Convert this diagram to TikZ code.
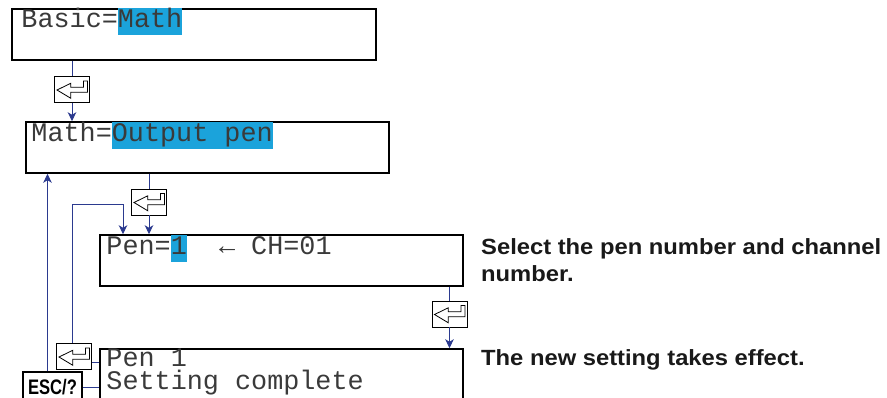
\documentclass[tikz,border=0pt]{standalone}
\usepackage{fontspec}
\setmonofont{Liberation Mono}
\newfontfamily\notefont[FakeStretch=1.08]{Liberation Sans}
\newfontfamily\keyfont{Liberation Sans}
\usetikzlibrary{
  arrows.meta,
  positioning,
  calc
}
\definecolor{ykFlow}{HTML}{2B3A8F}
\definecolor{ykMark}{HTML}{1BA3DB}
\definecolor{ykText}{HTML}{3A3A3A}
\newcommand{\hlmark}[1]{{\setlength{\fboxsep}{0pt}\colorbox{ykMark}{\rule[-7.5pt]{0pt}{26.5pt}#1}}}
\tikzset{
  screen/.style={
    draw, line width=1.5pt, minimum width=363pt, minimum height=51pt, inner sep=0pt
  },
  lcdtext/.style={font=\fontsize{26.8}{26.8}\selectfont\ttfamily, text=ykText, inner sep=0pt, anchor=base west},
  retkey/.style={
    draw, line width=0.9pt, fill=white, minimum width=35pt, minimum height=26pt, inner sep=0pt,
    path picture={
      \draw[line width=0.8pt, shift={(path picture bounding box.center)}]
        (-15pt,-0.5pt) -- (-1.2pt,6.2pt) -- (-1.2pt,2.2pt) -- (11.5pt,2.2pt) -- (11.5pt,8.5pt)
        -- (15.5pt,8.5pt) -- (15.5pt,-2.8pt) -- (-1.2pt,-2.8pt) -- (-1.2pt,-8.8pt) -- cycle;
    }
  },
  esckey/.style={
    draw, line width=1.2pt, fill=white, minimum width=59pt, minimum height=30pt, inner sep=0pt,
    font=\fontsize{21}{21}\selectfont\keyfont\bfseries
  },
  flowline/.style={line width=1pt, ykFlow},
  flow/.style={flowline, -{Stealth[length=9pt, width=8.5pt, inset=2.5pt]}},
  note/.style={font=\fontsize{22}{27}\selectfont\notefont\bfseries, text=black!90, inner sep=0pt, anchor=base west}
}

\begin{document}
\begin{tikzpicture}[x=1pt, y=-1pt]
  \useasboundingbox (0,0) rectangle (887,398);
  % screens
  \node[screen, minimum width=364pt] (basic) at (194,34.5) {};
  \node[lcdtext] (basictxt) at ([shift={(10pt,-19pt)}]basic.north west) {Basic=\hlmark{Math}};
  \node[screen] (math) at (207.5,147.5) {};
  \node[lcdtext] (mathtxt) at ([shift={(6pt,-20pt)}]math.north west) {Math=\hlmark{Output pen}};
  \node[screen] (pen) at (281.5,260.5) {};
  \node[lcdtext] (pentxt) at ([shift={(7pt,-20pt)}]pen.north west) {Pen=\hlmark{1}\ \ ←\ CH=01};
  \node[screen, minimum height=60pt] (done) at (281.5,379) {};
  \node[lcdtext] (donetxt) at ([shift={(7pt,-18pt)}]done.north west) {Pen 1};
  \node[lcdtext] (donetxt2) at ([yshift=-23.5pt]donetxt.base west) {Setting complete};
  % keys
  \node[retkey] (k1) at (72,89.5) {};
  \node[retkey] (k2) at (149,202) {};
  \node[retkey] (k3) at (449.5,314) {};
  \node[retkey] (k4) at (74,356.5) {};
  \node[esckey] (esc) at (52.5,387) {\scalebox{0.79}[1]{ESC/?}};
  % flow
  \draw[flowline] (basic.south -| k1) -- (k1);
  \draw[flow] (k1) -- (k1 |- math.north);
  \draw[flowline] (math.south -| k2) -- (k2);
  \draw[flow] (k2) -- (k2 |- pen.north);
  \draw[flowline] (pen.south -| k3) -- (k3);
  \draw[flow] (k3) -- (k3 |- done.north);
  \coordinate (back) at (123,205);
  \draw[flow] ([xshift=-2pt]k4.north) |- (back) -- (back |- pen.north);
  \draw[flowline] ([yshift=-5.5pt]k4.east) -- ([yshift=-5.5pt]k4.east -| done.west);
  \draw[flowline] (esc) -- (esc -| done.west);
  \draw[flow] ([xshift=-5pt]esc.north) -- ([xshift=-5pt]esc.north |- math.south);
  % notes
  \node[note] (selnote) at (481,255) {Select the pen number and channel};
  \node[note] (selnote2) at ([yshift=-27pt]selnote.base west) {number.};
  \node[note] (donenote) at (481,365) {The new setting takes effect.};
\end{tikzpicture}
\end{document}
